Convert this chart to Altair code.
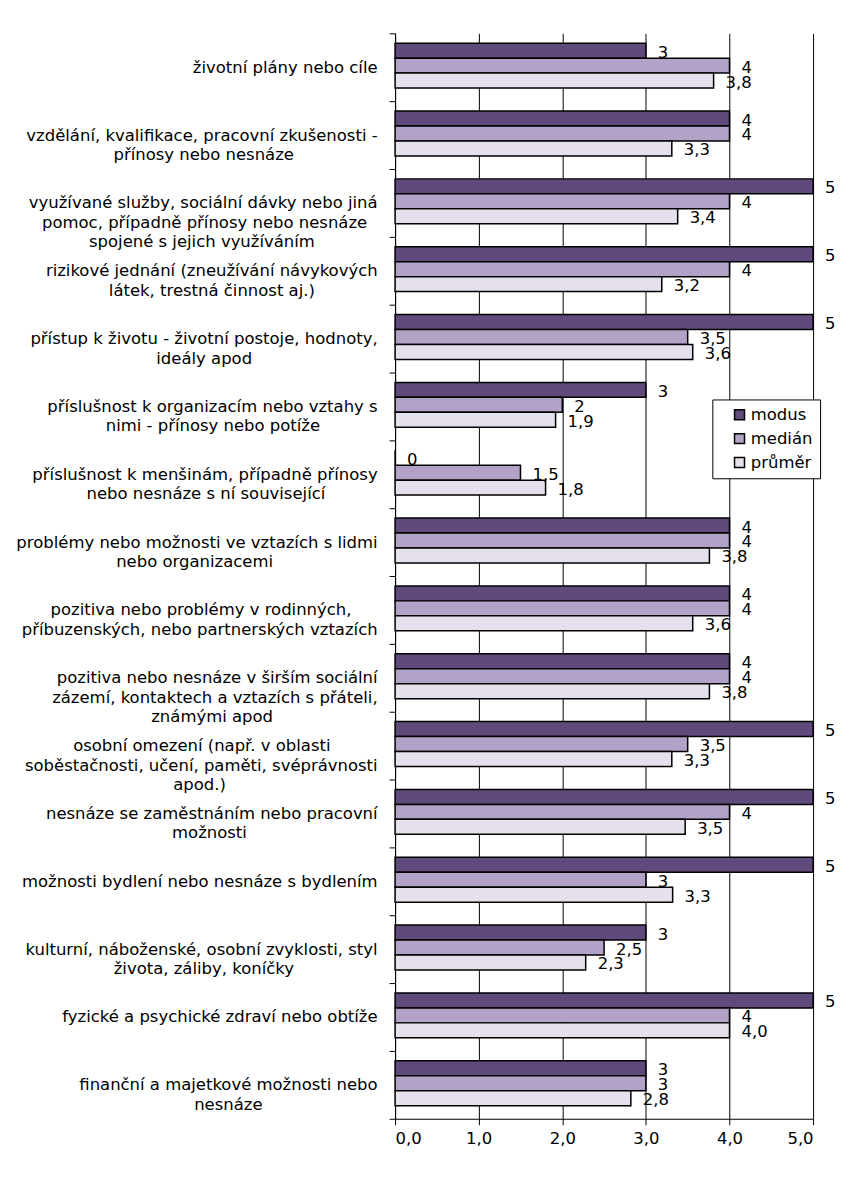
import altair as alt
import pandas as pd

categories = [
    "životní plány nebo cíle",
    "vzdělání, kvalifikace, pracovní zkušenosti -|přínosy nebo nesnáze",
    "využívané služby, sociální dávky nebo jiná|pomoc, případně přínosy nebo nesnáze|spojené s jejich využíváním",
    "rizikové jednání (zneužívání návykových|látek, trestná činnost aj.)",
    "přístup k životu - životní postoje, hodnoty,|ideály apod",
    "příslušnost k organizacím nebo vztahy s|nimi - přínosy nebo potíže",
    "příslušnost k menšinám, případně přínosy|nebo nesnáze s ní související",
    "problémy nebo možnosti ve vztazích s lidmi|nebo organizacemi",
    "pozitiva nebo problémy v rodinných,|příbuzenských, nebo partnerských vztazích",
    "pozitiva nebo nesnáze v širším sociální|zázemí, kontaktech a vztazích s přáteli,|známými apod",
    "osobní omezení (např. v oblasti|soběstačnosti, učení, paměti, svéprávnosti|apod.)",
    "nesnáze se zaměstnáním nebo pracovní|možnosti",
    "možnosti bydlení nebo nesnáze s bydlením",
    "kulturní, náboženské, osobní zvyklosti, styl|života, záliby, koníčky",
    "fyzické a psychické zdraví nebo obtíže",
    "finanční a majetkové možnosti nebo|nesnáze",
]
series = ["modus", "medián", "průměr"]
modus = [3, 4, 5, 5, 5, 3, 0, 4, 4, 4, 5, 5, 5, 3, 5, 3]
median = [4, 4, 4, 4, 3.5, 2, 1.5, 4, 4, 4, 3.5, 4, 3, 2.5, 4, 3]
mean = [3.81, 3.31, 3.38, 3.19, 3.56, 1.92, 1.80, 3.76, 3.56, 3.76, 3.31, 3.47, 3.32, 2.28, 4.0, 2.82]
colors = ["#604A7B", "#B3A2C7", "#E6E0EC"]

# approximate glyph advances (em) used to centre the lines of each label block
_w = {" ": .318, "a": .613, "b": .635, "c": .55, "d": .635, "e": .615, "f": .352, "g": .635,
      "h": .634, "i": .278, "j": .278, "k": .579, "l": .278, "m": .974, "n": .634, "o": .612,
      "p": .635, "r": .411, "s": .521, "t": .392, "u": .634, "v": .592, "w": .818, "x": .592,
      "y": .592, "z": .525, ",": .318, ".": .318, "-": .361, "(": .39, ")": .39}
_base = str.maketrans("áčďéěíňóřšťúůýž", "acdeeinorstuuyz")


def _width(s):
    return sum(_w.get(ch, .6) for ch in s.translate(_base))


def centred(label):
    lines = label.split("|")
    mw = max(_width(l) for l in lines)
    out = []
    for l in lines:
        n = int(round((mw - _width(l)) / 2 / .318))
        # trailing no-break spaces, protected from trimming by a zero-width space
        out.append(l + "\u00a0" * n + ("\u200b" if n else ""))
    return "|".join(out)


cat_labels = [centred(c) for c in categories]


def fmt_general(v):
    return f"{v:g}".replace(".", ",")


def fmt_one(v):
    return f"{v:.1f}".replace(".", ",")


rows = []
for i, c in enumerate(cat_labels):
    rows.append({"cat": c, "series": "modus", "value": modus[i], "label": fmt_general(modus[i])})
    rows.append({"cat": c, "series": "medián", "value": median[i], "label": fmt_general(median[i])})
    rows.append({"cat": c, "series": "průměr", "value": mean[i], "label": fmt_one(mean[i])})
df = pd.DataFrame(rows)

FONT = "DejaVu Sans"
FS = 16.5

y_enc = alt.Y(
    "cat:N",
    sort=cat_labels,
    scale=alt.Scale(paddingInner=0, paddingOuter=0),
    axis=alt.Axis(
        title=None,
        labelExpr="split(datum.label, '|')",
        labelFont=FONT,
        labelFontSize=FS,
        labelColor="black",
        labelLimit=420,
        labelLineHeight=19.5,
        labelPadding=12,
        tickBand="extent",
        tickSize=6,
        tickColor="black",
        domainColor="black",
        grid=False,
    ),
)
yoff = alt.YOffset("series:N", sort=series,
                   scale=alt.Scale(paddingInner=0, paddingOuter=0.767, align=0.43))

x_enc = alt.X(
    "value:Q",
    scale=alt.Scale(domain=[0, 5], nice=False, zero=True),
    axis=alt.Axis(
        title=None,
        values=[0, 1, 2, 3, 4, 5],
        labelExpr="replace(format(datum.value, '.1f'), '.', ',')",
        labelFont=FONT,
        labelFontSize=FS,
        labelColor="black",
        labelPadding=6,
        tickSize=6,
        tickColor="black",
        domainColor="black",
        grid=True,
        gridColor="black",
        gridOpacity=1,
        gridWidth=1,
    ),
)

bars = alt.Chart(df).mark_bar(stroke="black", strokeWidth=1.5).encode(
    y=y_enc,
    yOffset=yoff,
    x=x_enc,
    color=alt.Color(
        "series:N",
        sort=series,
        scale=alt.Scale(domain=series, range=colors),
        legend=alt.Legend(
            title=None,
            orient="none",
            legendX=318,
            legendY=367,
            strokeColor="black",
            fillColor="white",
            padding=7,
            symbolType="square",
            symbolSize=100,
            symbolStrokeColor="black",
            symbolStrokeWidth=1.5,
            symbolOffset=12,
            labelFont=FONT,
            labelFontSize=FS,
            labelColor="black",
            rowPadding=7,
            labelOffset=3,
        ),
    ),
)

text = alt.Chart(df).mark_text(
    align="left", baseline="middle", dx=12, dy=2, font=FONT, fontSize=FS, color="black"
).encode(
    y=alt.Y("cat:N", sort=cat_labels),
    yOffset=yoff,
    x=alt.X("value:Q"),
    text="label:N",
)

chart = alt.layer(bars, text).properties(
    width=419,
    height=1088,
    autosize=alt.AutoSizeParams(type="none"),
    padding={"left": 388, "top": 24, "right": 40, "bottom": 60},
).configure_view(stroke=None)

chart.save("out.html", embed_options={"renderer": "svg", "actions": False})
